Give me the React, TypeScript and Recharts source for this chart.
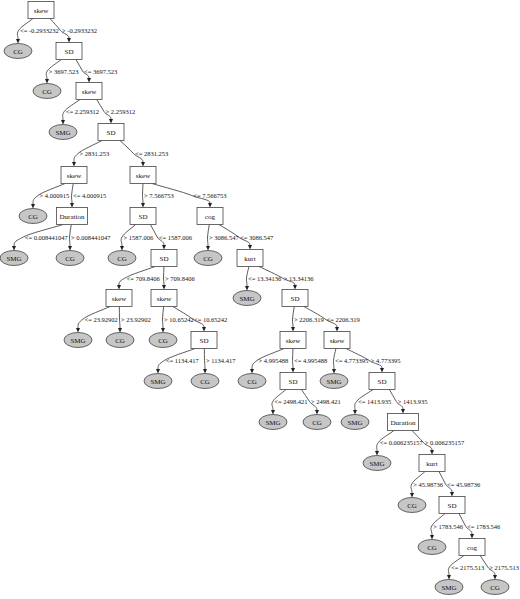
import React from 'react';
import { ScatterChart, Scatter, XAxis, YAxis } from 'recharts';

// decision tree nodes
const nodeLabels = [
  'skew', 'CG', 'SD', 'CG', 'skew', 'SMG', 'SD', 'skew', 'skew', 'CG', 'Duration', 'SD',
  'cog', 'SMG', 'CG', 'CG', 'SD', 'CG', 'kurt', 'skew', 'skew', 'SMG', 'SD', 'SMG',
  'CG', 'CG', 'SD', 'skew', 'skew', 'SMG', 'CG', 'CG', 'SD', 'SMG', 'SD', 'SMG',
  'CG', 'SMG', 'Duration', 'SMG', 'kurt', 'CG', 'SD', 'CG', 'cog', 'SMG', 'CG',
];

const nodeX = [
  41, 18, 69, 47, 89, 63, 111, 74, 143, 33, 72, 143, 210, 14, 70, 122, 164, 208, 250, 119,
  164, 247, 295, 78, 120, 163, 204, 293, 337, 158, 205, 252, 293, 334, 382, 273, 317, 355,
  403, 377, 432, 412, 452, 432, 472, 449, 495,
];

const nodeY = [
  10, 51, 51, 91, 91, 132, 132, 175, 175, 216, 216, 216, 216, 258, 258, 258, 258, 258, 258,
  298, 298, 298, 298, 340, 340, 340, 340, 340, 340, 381, 381, 381, 381, 381, 381, 422, 422,
  422, 422, 463, 463, 505, 505, 547, 547, 587, 587,
];

const parents = [
  -1, 0, 0, 2, 2, 4, 4, 6, 6, 7, 7, 8, 8, 10, 10, 11, 11, 12, 12, 16, 16, 18, 18, 19, 19,
  20, 20, 22, 22, 26, 26, 27, 27, 28, 28, 32, 32, 34, 34, 38, 38, 40, 40, 42, 42, 44, 44,
];

const edgeLabels = [
  '', '<= -0.2933232', '> -0.2933232', '> 3697.523', '<= 3697.523', '<= 2.259312',
  '> 2.259312', '> 2831.253', '<= 2831.253', '> 4.000915', '<= 4.000915', '> 7.566753',
  '<= 7.566753', '<= 0.008441047', '> 0.008441047', '> 1587.006', '<= 1587.006',
  '> 3086.547', '<= 3086.547', '<= 709.8406', '> 709.8406', '<= 13.34136', '> 13.34136',
  '<= 23.92902', '> 23.92902', '> 10.65242', '<= 10.65242', '> 2206.319', '<= 2206.319',
  '<= 1134.417', '> 1134.417', '> 4.995488', '<= 4.995488', '<= 4.773395', '> 4.773395',
  '<= 2498.421', '> 2498.421', '<= 1413.935', '> 1413.935', '<= 0.006235157',
  '> 0.006235157', '> 45.98736', '<= 45.98736', '> 1783.546', '<= 1783.546',
  '<= 2175.513', '> 2175.513',
];

const FONT = '"Liberation Serif", "Times New Roman", serif';
const isLeaf = (label: string) => label === 'CG' || label === 'SMG';

const nodes = nodeLabels.map((label, i) => ({ x: nodeX[i], y: nodeY[i], label, leaf: isLeaf(label) }));

const NodeShape = (props: any) => {
  const { cx, cy } = props;
  const p = props.payload || props;
  if (cx == null || cy == null) return <g />;
  if (p.leaf) {
    return (
      <g>
        <ellipse cx={cx} cy={cy} rx={14} ry={7.5} fill="#c6c6c6" stroke="#444" strokeWidth={0.8} />
        <text x={cx} y={cy + 0.5} textAnchor="middle" dominantBaseline="central" fontSize={7} fontFamily={FONT} fill="#111">
          {p.label}
        </text>
      </g>
    );
  }
  const w = p.label === 'Duration' ? 31 : 26;
  return (
    <g>
      <rect x={cx - w / 2} y={cy - 8.5} width={w} height={17} fill="#fff" stroke="#444" strokeWidth={0.8} />
      <text x={cx} y={cy + 0.5} textAnchor="middle" dominantBaseline="central" fontSize={7} fontFamily={FONT} fill="#111">
        {p.label}
      </text>
    </g>
  );
};

const Nothing = () => <g />;

const makeEdge = (label: string, childLeaf: boolean) => (props: any) => {
  const pts = props.points || [];
  if (pts.length < 2) return <g />;
  const [a, b] = pts;
  const dx = b.x - a.x;
  const x0 = a.x + Math.max(-9, Math.min(9, dx * 0.35));
  const y0 = a.y + 8.5;
  const ex = b.x;
  const ey = b.y - (childLeaf ? 7.5 : 8.5);
  const ly = (a.y + b.y) / 2;
  const labelX = dx > 3 ? a.x + dx * 0.75 : b.x + Math.max(1, (Math.abs(dx) - 15) * 0.25);
  const lx = labelX - 1.5;
  const tx = (ex - x0) * 0.15;
  const ty = (ey - y0) * 0.15;
  const ah = 4.5;
  const d =
    `M${x0},${y0} C${x0 + (lx - x0) * 0.3},${y0 + (ly - y0) * 0.3} ${lx - tx},${ly - ty} ${lx},${ly}` +
    ` S${ex},${ey - ah - (ey - ah - ly) * 0.5} ${ex},${ey - ah}`;
  return (
    <g>
      <path d={d} fill="none" stroke="#333" strokeWidth={0.8} />
      <polygon points={`${ex - 2},${ey - ah} ${ex + 2},${ey - ah} ${ex},${ey}`} fill="#222" />
      <text x={labelX} y={ly} dominantBaseline="central" fontSize={6.5} fontFamily={FONT} fill="#111">
        {label}
      </text>
    </g>
  );
};

export default function App() {
  const edges = nodes
    .map((n, i) => ({ i, p: parents[i] }))
    .filter((e) => e.p >= 0);

  return (
    <div style={{ position: 'absolute', left: 0, top: 0, width: 520, height: 599, background: '#fff' }}>
      <ScatterChart width={520} height={599} margin={{ top: 0, right: 0, bottom: 0, left: 0 }}>
        <XAxis type="number" dataKey="x" domain={[0, 520]} hide />
        <YAxis type="number" dataKey="y" domain={[0, 599]} reversed hide />
        {edges.map((e) => (
          <Scatter
            key={`edge-${e.i}`}
            data={[nodes[e.p], nodes[e.i]]}
            shape={Nothing}
            line={makeEdge(edgeLabels[e.i], nodes[e.i].leaf)}
            lineType="joint"
            isAnimationActive={false}
          />
        ))}
        <Scatter data={nodes} shape={NodeShape} isAnimationActive={false} />
      </ScatterChart>
    </div>
  );
}
